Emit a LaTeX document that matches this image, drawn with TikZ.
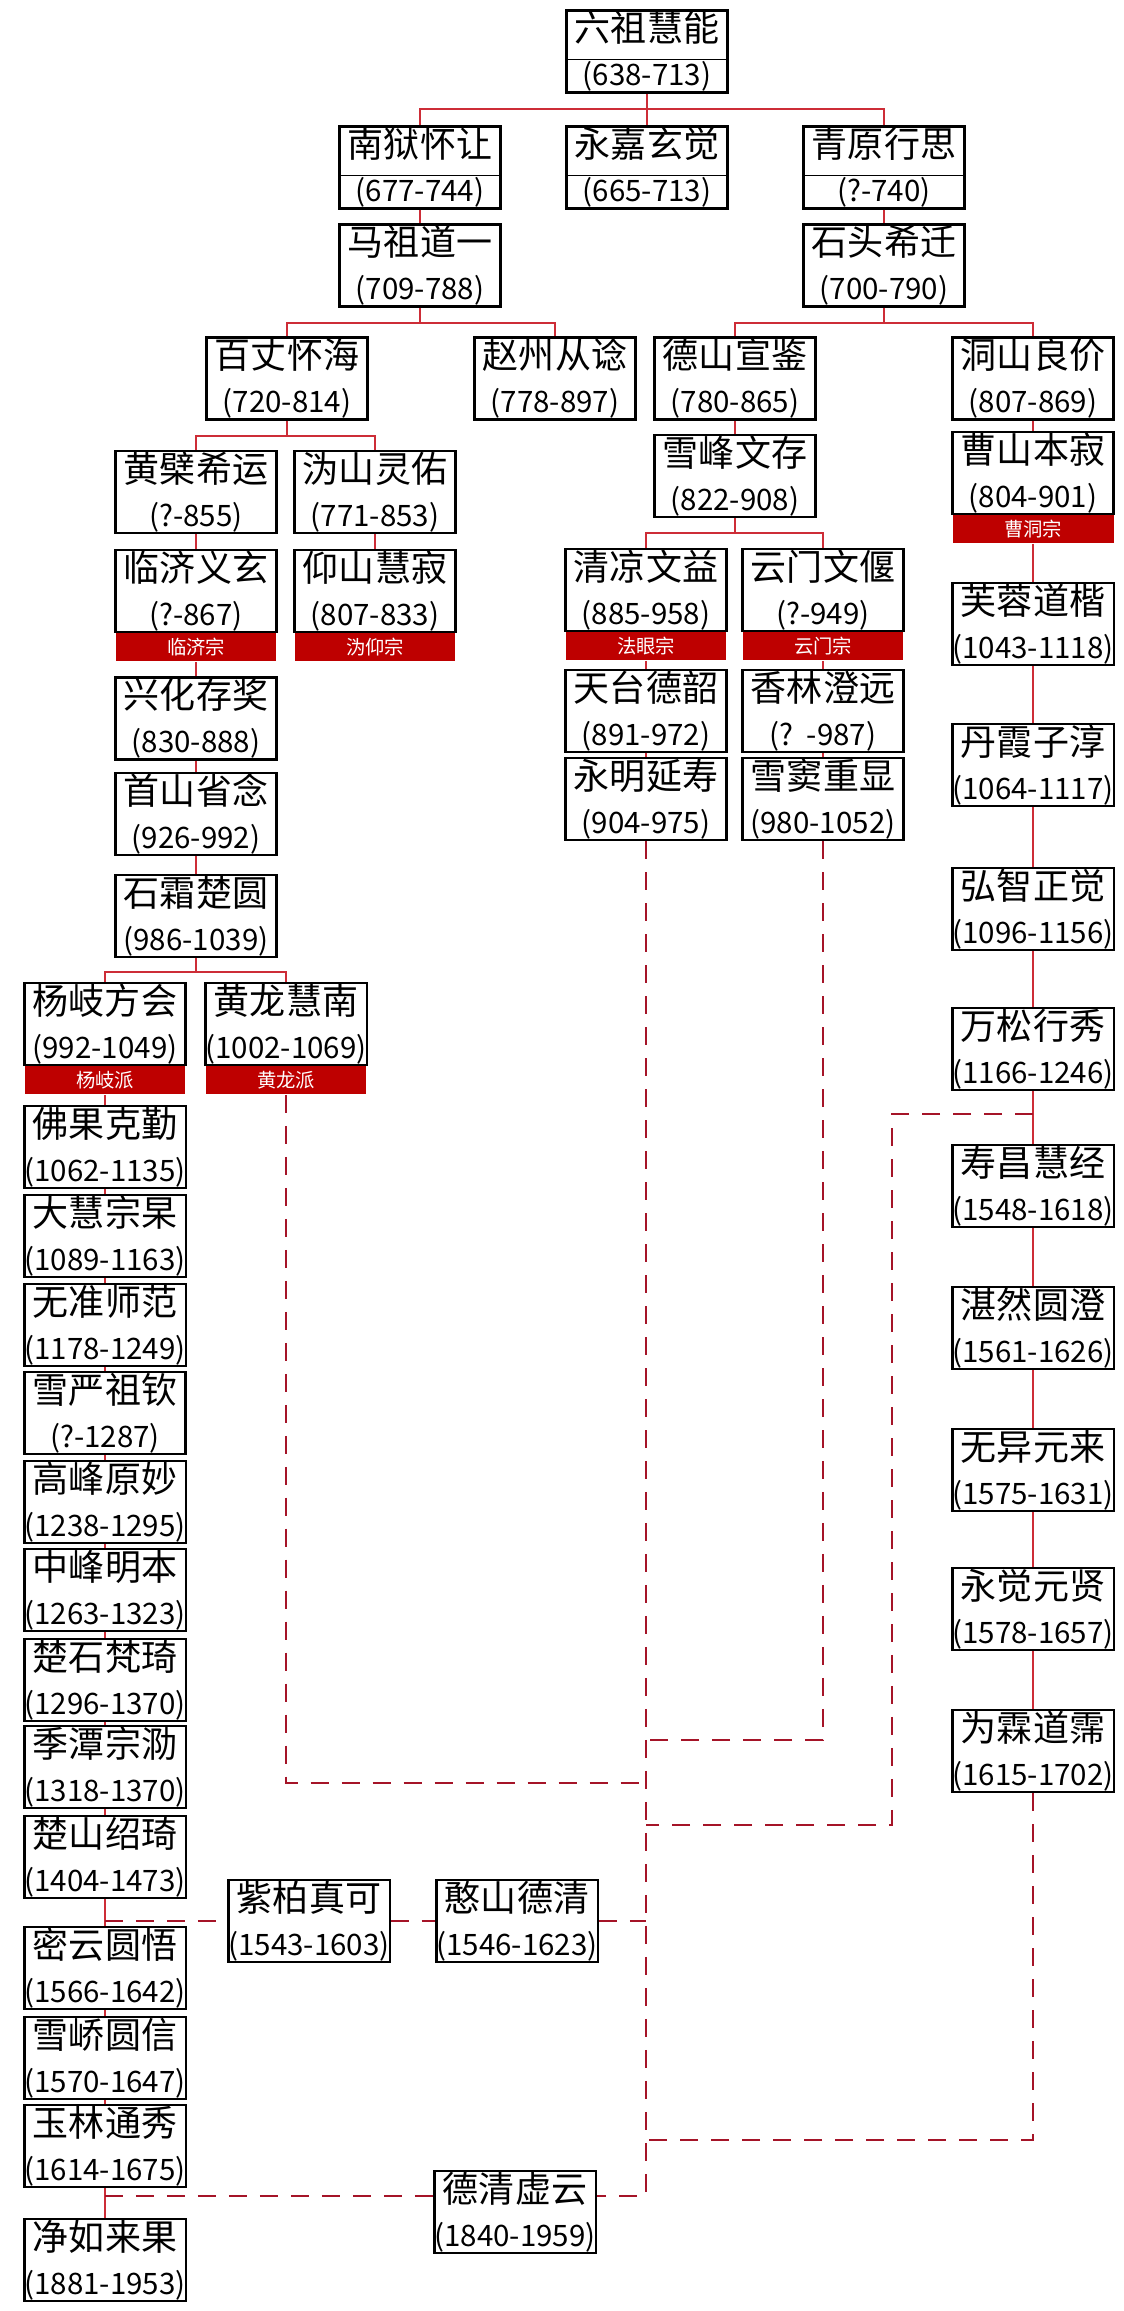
\documentclass[tikz,border=0pt]{standalone}
\usepackage{fontspec}
\setmainfont{Noto Sans CJK SC}
\usetikzlibrary{calc,positioning}
\definecolor{linered}{RGB}{205,45,55}
\definecolor{dashred}{RGB}{165,20,40}
\definecolor{bandred}{RGB}{190,0,0}
\newcommand{\dharma}[2]{#1\\{\fontsize{16.8pt}{25pt}\selectfont(#2)}}

\begin{document}
\begin{tikzpicture}[x=0.02cm, y=-0.02cm,
    monk/.style={draw, line width=0.045cm, fill=white, minimum width=3.22cm, minimum height=1.64cm,
        inner sep=0pt, align=center, font=\fontsize{20.5pt}{25pt}\selectfont},
    school/.style={fill=bandred, text=white, minimum width=3.22cm, minimum height=0.56cm,
        inner sep=0pt, font=\fontsize{11pt}{12pt}\selectfont},
    tree/.style={draw=linered, line width=0.04cm},
    lineage/.style={draw=dashred, line width=0.05cm, dash pattern=on 0.36cm off 0.26cm}]
\useasboundingbox (0,0) rectangle (1123,2311);

% patriarchs
\node[monk] (lz) at (647,51.5) {\dharma{六祖慧能}{638-713}};
\node[monk] (nyhr) at (420,167.5) {\dharma{南狱怀让}{677-744}};
\node[monk] (yjxj) at (647,167.5) {\dharma{永嘉玄觉}{665-713}};
\node[monk] (qyxs) at (884,167.5) {\dharma{青原行思}{?-740}};
\node[monk] (mzdy) at (420,265.5) {\dharma{马祖道一}{709-788}};
\node[monk] (stxq) at (884,265.5) {\dharma{石头希迁}{700-790}};
\node[monk] (bzhh) at (287,378.5) {\dharma{百丈怀海}{720-814}};
\node[monk] (zzcs) at (555,378.5) {\dharma{赵州从谂}{778-897}};
\node[monk] (dsxj) at (735,378.5) {\dharma{德山宣鉴}{780-865}};
\node[monk] (dslj) at (1033,378.5) {\dharma{洞山良价}{807-869}};
\node[monk] (hbxy) at (196,492) {\dharma{黄檗希运}{?-855}};
\node[monk] (wsly) at (375,492) {\dharma{沩山灵佑}{771-853}};
\node[monk] (xfwc) at (735,476) {\dharma{雪峰文存}{822-908}};
\node[monk] (csbj) at (1033,473) {\dharma{曹山本寂}{804-901}};
\node[school, below=0pt of csbj] (csbj-b) {曹洞宗};

% five houses
\node[monk] (ljyx) at (196,591) {\dharma{临济义玄}{?-867}};
\node[school, below=0pt of ljyx] (ljyx-b) {临济宗};
\node[monk] (ysjj) at (375,591) {\dharma{仰山慧寂}{807-833}};
\node[school, below=0pt of ysjj] (ysjj-b) {沩仰宗};
\node[monk] (qlwy) at (646,590) {\dharma{清凉文益}{885-958}};
\node[school, below=0pt of qlwy] (qlwy-b) {法眼宗};
\node[monk] (ymwy) at (823,590) {\dharma{云门文偃}{?-949}};
\node[school, below=0pt of ymwy] (ymwy-b) {云门宗};

\node[monk] (frdk) at (1033,624) {\dharma{芙蓉道楷}{1043-1118}};
\node[monk] (xhcj) at (196,718.5) {\dharma{兴化存奖}{830-888}};
\node[monk] (ttds) at (646,711) {\dharma{天台德韶}{891-972}};
\node[monk] (xlcy) at (823,711) {\dharma{香林澄远}{?\ \ -987}};
\node[monk] (dxzc) at (1033,765) {\dharma{丹霞子淳}{1064-1117}};
\node[monk] (sssn) at (196,814) {\dharma{首山省念}{926-992}};
\node[monk] (ymys) at (646,799) {\dharma{永明延寿}{904-975}};
\node[monk] (xdzx) at (823,799) {\dharma{雪窦重显}{980-1052}};
\node[monk] (ssyc) at (196,916) {\dharma{石霜楚圆}{986-1039}};
\node[monk] (hzzj) at (1033,909) {\dharma{弘智正觉}{1096-1156}};
\node[monk] (yqfh) at (105,1024) {\dharma{杨岐方会}{992-1049}};
\node[school, below=0pt of yqfh] (yqfh-b) {杨岐派};
\node[monk] (hlhn) at (286,1024) {\dharma{黄龙慧南}{1002-1069}};
\node[school, below=0pt of hlhn] (hlhn-b) {黄龙派};
\node[monk] (wsxx) at (1033,1049) {\dharma{万松行秀}{1166-1246}};

% later lines
\node[monk] (fgkq) at (105,1147) {\dharma{佛果克勤}{1062-1135}};
\node[monk] (scjj) at (1033,1186) {\dharma{寿昌慧经}{1548-1618}};
\node[monk] (dhzg) at (105,1236) {\dharma{大慧宗杲}{1089-1163}};
\node[monk] (wzsf) at (105,1325) {\dharma{无准师范}{1178-1249}};
\node[monk] (zryc) at (1033,1328) {\dharma{湛然圆澄}{1561-1626}};
\node[monk] (xyzq) at (105,1413) {\dharma{雪严祖钦}{?-1287}};
\node[monk] (wyyl) at (1033,1470) {\dharma{无异元来}{1575-1631}};
\node[monk] (gfym) at (105,1502) {\dharma{高峰原妙}{1238-1295}};
\node[monk] (zfmb) at (105,1590) {\dharma{中峰明本}{1263-1323}};
\node[monk] (yjyx) at (1033,1609) {\dharma{永觉元贤}{1578-1657}};
\node[monk] (csfq) at (105,1680) {\dharma{楚石梵琦}{1296-1370}};
\node[monk] (wldp) at (1033,1751) {\dharma{为霖道霈}{1615-1702}};
\node[monk] (jtzl) at (105,1767) {\dharma{季潭宗泐}{1318-1370}};
\node[monk] (cssq) at (105,1857) {\dharma{楚山绍琦}{1404-1473}};
\node[monk] (zbzk) at (309,1921) {\dharma{紫柏真可}{1543-1603}};
\node[monk] (hsdq) at (517,1921) {\dharma{憨山德清}{1546-1623}};
\node[monk] (myyw) at (105,1968) {\dharma{密云圆悟}{1566-1642}};
\node[monk] (xqyx) at (105,2058) {\dharma{雪峤圆信}{1570-1647}};
\node[monk] (yltx) at (105,2146) {\dharma{玉林通秀}{1614-1675}};
\node[monk] (dqxy) at (515,2212) {\dharma{德清虚云}{1840-1959}};
\node[monk] (jrlg) at (105,2260) {\dharma{净如来果}{1881-1953}};

\foreach \n in {lz,nyhr,yjxj,qyxs}
    \draw[line width=0.02cm] ($(\n.north west)!0.6!(\n.south west)$) -- ($(\n.north east)!0.6!(\n.south east)$);

% forks
\coordinate (f0) at ($(lz.south)+(0,15)$);
\draw[tree] (lz.south) -- (yjxj.north);
\draw[tree] (nyhr.north) |- (f0) -| (qyxs.north);
\coordinate (f1) at ($(mzdy.south)+(0,15)$);
\draw[tree] (mzdy.south) -- (f1);
\draw[tree] (bzhh.north) |- (f1) -| (zzcs.north);
\coordinate (f2) at ($(stxq.south)+(0,15)$);
\draw[tree] (stxq.south) -- (f2);
\draw[tree] (dsxj.north) |- (f2) -| (dslj.north);
\coordinate (f3) at ($(bzhh.south)+(0,15)$);
\draw[tree] (bzhh.south) -- (f3);
\draw[tree] (hbxy.north) |- (f3) -| (wsly.north);
\coordinate (f4) at ($(xfwc.south)+(0,15)$);
\draw[tree] (xfwc.south) -- (f4);
\draw[tree] (qlwy.north) |- (f4) -| (ymwy.north);
\coordinate (f5) at ($(ssyc.south)+(0,14)$);
\draw[tree] (ssyc.south) -- (f5);
\draw[tree] (yqfh.north) |- (f5) -| (hlhn.north);

% straight descent
\foreach \a/\b in {nyhr/mzdy, qyxs/stxq, hbxy/ljyx, wsly/ysjj, dsxj/xfwc, dslj/csbj,
        ljyx-b/xhcj, xhcj/sssn, sssn/ssyc, qlwy-b/ttds, ymwy-b/xlcy, ttds/ymys, xlcy/xdzx,
        csbj-b/frdk, frdk/dxzc, dxzc/hzzj, hzzj/wsxx, wsxx/scjj, scjj/zryc, zryc/wyyl,
        wyyl/yjyx, yjyx/wldp, yqfh-b/fgkq, fgkq/dhzg, dhzg/wzsf, wzsf/xyzq, xyzq/gfym,
        gfym/zfmb, zfmb/csfq, csfq/jtzl, jtzl/cssq, cssq/myyw, myyw/xqyx, xqyx/yltx, yltx/jrlg}
    \draw[tree] (\a.south) -- (\a.south |- \b.north);

% lineages to xuyun
\coordinate (xyl) at ($(dqxy.north west)+(0,26)$);
\coordinate (xyr) at ($(dqxy.north east)+(0,26)$);
\coordinate (w1) at ($(wsxx.south)+(0,23)$);
\draw[lineage] (ymys.south) |- (xyr);
\draw[lineage] (hlhn-b.south) |- (ymys.south |- 0,1783);
\draw[lineage] (xdzx.south) |- (ymys.south |- 0,1740);
\draw[lineage] (w1) -- ++(-141,0) |- (ymys.south |- 0,1825);
\draw[lineage] (wldp.south) |- (ymys.south |- 0,2140);
\draw[lineage] (cssq.south |- zbzk.west) -- (zbzk.west);
\draw[lineage] (zbzk.east) -- (hsdq.west);
\draw[lineage] (hsdq.east) -- (hsdq.east -| ymys.south);
\draw[lineage] (yltx.south |- xyl) -- (xyl);
\end{tikzpicture}
\end{document}
